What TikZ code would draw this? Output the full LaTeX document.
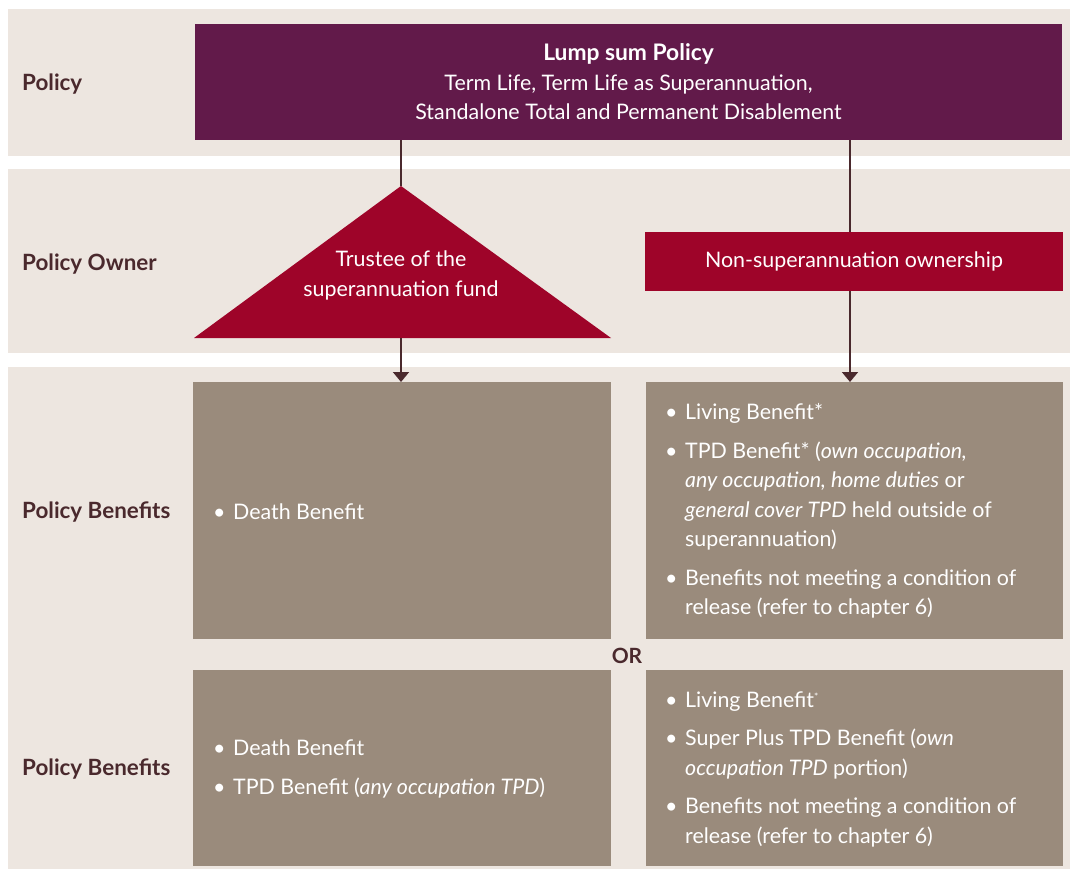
\documentclass[tikz,border=0pt]{standalone}
\usepackage{fontspec}
\setmainfont{Lato}
\usetikzlibrary{arrows.meta}
\definecolor{bandbg}{HTML}{EDE6E0}
\definecolor{plum}{HTML}{621A4A}
\definecolor{crimson}{HTML}{9E0429}
\definecolor{taupe}{HTML}{9A8B7C}
\definecolor{darktxt}{HTML}{4A292D}
\newcommand{\bul}{\makebox[20pt][l]{\textbullet}}
\newcommand{\ind}{\hspace*{20pt}}
\newcommand{\smallstar}{\raisebox{7pt}{\fontsize{10}{10}\selectfont *}}
\tikzset{
  band/.style={fill=bandbg, draw=none},
  rowlabel/.style={anchor=west, text=darktxt, font=\fontsize{22.4}{26}\selectfont\bfseries, inner sep=0pt},
  benefitbox/.style={fill=taupe, draw=none},
  boxtext/.style={text=white, font=\fontsize{21.4}{29.5}\selectfont, align=left, inner sep=0pt, anchor=west},
  conn/.style={draw=darktxt, line width=1.8pt},
  arr/.style={conn, -{Triangle[width=16pt,length=10pt]}},
}
\begin{document}
\begin{tikzpicture}[x=1pt,y=-1pt]
\useasboundingbox (0,0) rectangle (1070,872);
% bands
\fill[band] (8,9) rectangle (1070,156);
\fill[band] (8,169) rectangle (1070,353);
\fill[band] (8,367) rectangle (1070,869);
% row labels
\node[rowlabel] (lpolicy) at (22,84) {Policy};
\node[rowlabel] (lowner) at (22,264) {Policy Owner};
\node[rowlabel] (lben1) at (22,512) {Policy Benefits};
\node[rowlabel] (lben2) at (22,769) {Policy Benefits};
% policy box
\node[fill=plum, minimum width=867pt, minimum height=116pt, inner sep=0pt, text=white, align=center,
  font=\fontsize{21.4}{29.5}\selectfont] (policy) at (628.5,82)
  {{\fontsize{22.8}{29.5}\selectfont\bfseries Lump sum Policy}\\Term Life, Term Life as Superannuation,\\Standalone Total and Permanent Disablement};
% triangle
\coordinate (apex) at (401,186);
\coordinate (baseL) at (194,338);
\coordinate (baseR) at (611,338);
\coordinate (basemid) at (401,338);
\fill[crimson] (apex) -- (baseR) -- (baseL) -- cycle;
\node[text=white, align=center, font=\fontsize{21.4}{30}\selectfont] (trustee) at (401,275) {Trustee of the\\superannuation fund};
% non-super box
\node[fill=crimson, minimum width=418pt, minimum height=59pt, inner sep=0pt, text=white,
  font=\fontsize{21.4}{24}\selectfont] (nonsuper) at (854,261.5) {Non-superannuation ownership};
% benefit boxes
\fill[benefitbox] (193,382) rectangle (611,639);
\fill[benefitbox] (646,382) rectangle (1063,639);
\fill[benefitbox] (193,670) rectangle (611,866);
\fill[benefitbox] (646,670) rectangle (1063,866);
\coordinate (b1top) at (401,382);
\coordinate (b2top) at (850,382);
\node[boxtext] (b1) at (213,512) {\bul Death Benefit};
\node[boxtext] (b2) at (665,511) {\bul Living Benefit*\\[9pt]
\bul TPD Benefit* (\textit{own occupation,}\\
\ind\textit{any occupation, home duties} or\\
\ind\textit{general cover TPD} held outside of\\
\ind superannuation)\\[9pt]
\bul Benefits not meeting a condition of\\
\ind release (refer to chapter 6)};
\node[boxtext] (b3) at (213,769) {\bul Death Benefit\\[9pt]
\bul TPD Benefit (\textit{any occupation TPD})};
\node[boxtext] (b4) at (665,769) {\bul Living Benefit\smallstar\\[9pt]
\bul Super Plus TPD Benefit (\textit{own}\\
\ind\textit{occupation TPD} portion)\\[9pt]
\bul Benefits not meeting a condition of\\
\ind release (refer to chapter 6)};
\node[text=darktxt, font=\fontsize{21}{24}\selectfont\bfseries, inner sep=0pt] (or) at (627,656) {OR};
% connectors
\draw[conn] (policy.south -| apex) -- (apex);
\draw[arr] (basemid) -- (b1top);
\draw[conn] (policy.south -| b2top) -- (nonsuper.north -| b2top);
\draw[arr] (nonsuper.south -| b2top) -- (b2top);
\end{tikzpicture}
\end{document}
